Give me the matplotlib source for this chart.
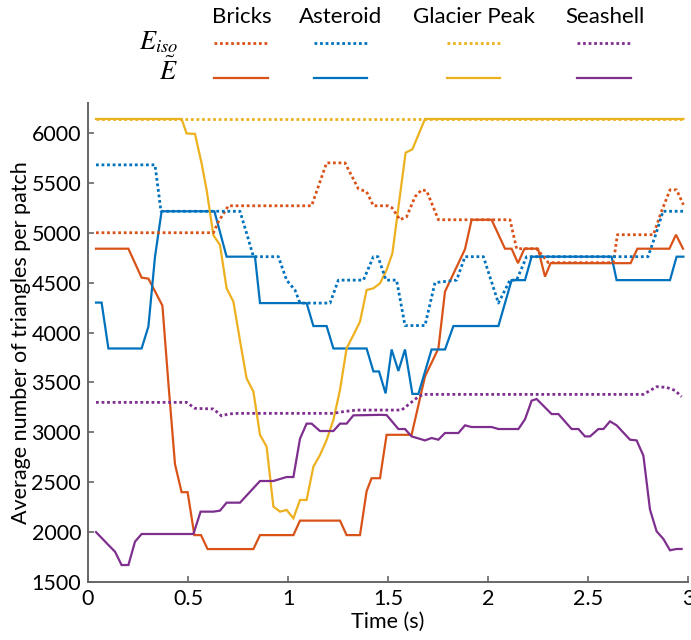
import matplotlib
matplotlib.use("Agg")
import matplotlib.pyplot as plt
from matplotlib.lines import Line2D

plt.rcParams["font.family"] = ["Lato", "DejaVu Sans"]
plt.rcParams["mathtext.fontset"] = "stix"

# --- data: polyline vertices (time in s, triangles per patch)
bricks_iso_t = [0.04, 0.627, 0.652, 0.702, 1.118, 1.193, 1.285, 1.352, 1.393, 1.427, 1.50,
                1.52, 1.56, 1.593, 1.635, 1.668, 1.693, 1.752, 2.11, 2.143, 2.243, 2.302,
                2.627, 2.647, 2.827, 2.865, 2.91, 2.943, 2.977]
bricks_iso_v = [5000, 5000, 5110, 5270, 5270, 5700, 5700, 5440, 5410, 5270, 5270,
                5250, 5130, 5160, 5360, 5430, 5420, 5130, 5130, 4840, 4840, 4700,
                4700, 4980, 4980, 5200, 5430, 5430, 5280]

bricks_t = [0.04, 0.202, 0.268, 0.302, 0.372, 0.402, 0.435, 0.468, 0.498, 0.532, 0.565,
            0.598, 0.827, 0.86, 1.027, 1.06, 1.26, 1.293, 1.36, 1.393, 1.418, 1.46,
            1.493, 1.618, 1.685, 1.752, 1.785, 1.885, 1.918, 2.018, 2.085, 2.118, 2.15,
            2.182, 2.25, 2.285, 2.313, 2.713, 2.747, 2.907, 2.94, 2.975]
bricks_v = [4840, 4840, 4550, 4540, 4270, 3490, 2680, 2400, 2400, 1970, 1970,
            1830, 1830, 1970, 1970, 2115, 2115, 1970, 1970, 2410, 2540, 2540,
            2975, 2975, 3560, 3840, 4410, 4835, 5130, 5130, 4840, 4840, 4695,
            4840, 4840, 4560, 4695, 4695, 4840, 4840, 4980, 4840]

asteroid_iso_t = [0.04, 0.335, 0.365, 0.76, 0.793, 0.827, 0.952, 0.993, 1.035, 1.06, 1.21,
                  1.252, 1.377, 1.427, 1.45, 1.49, 1.543, 1.585, 1.685, 1.735, 1.843,
                  1.885, 1.977, 2.052, 2.11, 2.143, 2.193, 2.80, 2.84, 2.875, 2.977]
asteroid_iso_v = [5680, 5680, 5215, 5215, 4995, 4760, 4760, 4525, 4425, 4295, 4295,
                  4525, 4525, 4760, 4760, 4525, 4525, 4070, 4070, 4500, 4525,
                  4760, 4760, 4295, 4525, 4525, 4760, 4760, 4990, 5215, 5215]

asteroid_t = [0.04, 0.068, 0.102, 0.268, 0.302, 0.335, 0.368, 0.632, 0.693, 0.835, 0.86,
              1.093, 1.127, 1.193, 1.227, 1.393, 1.427, 1.455, 1.488, 1.518, 1.552,
              1.585, 1.622, 1.652, 1.718, 1.785, 1.827, 2.052, 2.118, 2.185, 2.218,
              2.618, 2.643, 2.91, 2.943, 2.977]
asteroid_v = [4300, 4300, 3840, 3840, 4060, 4760, 5215, 5215, 4760, 4760, 4295,
              4295, 4065, 4065, 3840, 3840, 3610, 3610, 3390, 3830, 3615,
              3830, 3385, 3385, 3830, 3830, 4065, 4065, 4525, 4525, 4760,
              4760, 4525, 4525, 4760, 4760]

glacier_iso_t = [0.04, 2.977]
glacier_iso_v = [6140, 6140]

glacier_t = [0.04, 0.468, 0.493, 0.535, 0.568, 0.593, 0.627, 0.66, 0.693, 0.727, 0.768,
             0.793, 0.827, 0.86, 0.893, 0.927, 0.96, 0.993, 1.027, 1.06, 1.093, 1.127,
             1.16, 1.193, 1.227, 1.26, 1.293, 1.327, 1.36, 1.393, 1.427, 1.46, 1.493,
             1.522, 1.555, 1.588, 1.622, 1.685, 2.977]
glacier_v = [6140, 6140, 5995, 5990, 5695, 5430, 4975, 4877, 4443, 4309, 3825,
             3541, 3408, 2974, 2857, 2256, 2205, 2222, 2138, 2322, 2322, 2656,
             2773, 2923, 3124, 3425, 3842, 3975, 4109, 4426, 4443, 4493, 4627,
             4794, 5300, 5802, 5836, 6140, 6140]

seashell_iso_t = [0.04, 0.493, 0.535, 0.627, 0.668, 0.702, 0.752, 1.227, 1.277, 1.343,
                  1.568, 1.652, 1.677, 2.777, 2.843, 2.893, 2.935, 2.968]
seashell_iso_v = [3300, 3300, 3240, 3234, 3164, 3184, 3190, 3190, 3207, 3223,
                  3223, 3357, 3380, 3380, 3457, 3450, 3420, 3357]

seashell_t = [0.04, 0.102, 0.135, 0.168, 0.202, 0.235, 0.268, 0.527, 0.563, 0.627, 0.66,
              0.693, 0.76, 0.86, 0.927, 0.993, 1.027, 1.06, 1.093, 1.118, 1.16, 1.227,
              1.26, 1.293, 1.327, 1.46, 1.493, 1.552, 1.585, 1.618, 1.685, 1.718,
              1.752, 1.785, 1.852, 1.885, 1.918, 2.018, 2.052, 2.152, 2.185, 2.218,
              2.243, 2.318, 2.352, 2.418, 2.452, 2.485, 2.51, 2.552, 2.577, 2.61,
              2.643, 2.71, 2.743, 2.777, 2.81, 2.843, 2.877, 2.91, 2.943, 2.968]
seashell_v = [2000, 1871, 1804, 1670, 1670, 1904, 1981, 1981, 2205, 2205, 2215,
              2295, 2295, 2512, 2512, 2552, 2552, 2936, 3087, 3087, 3013, 3013,
              3087, 3087, 3170, 3175, 3173, 3033, 3033, 2959, 2919, 2943,
              2926, 2993, 2993, 3070, 3053, 3053, 3033, 3033, 3130, 3317,
              3334, 3183, 3183, 3033, 3033, 2959, 2959, 3033, 3033, 3110,
              3070, 2926, 2919, 2766, 2225, 2008, 1931, 1818, 1831, 1831]

scenes = ["Bricks", "Asteroid", "Glacier Peak", "Seashell"]
colors = ["#D95319", "#0072BD", "#EDB120", "#7E2F8E"]
iso_series = [(bricks_iso_t, bricks_iso_v), (asteroid_iso_t, asteroid_iso_v),
              (glacier_iso_t, glacier_iso_v), (seashell_iso_t, seashell_iso_v)]
ours_series = [(bricks_t, bricks_v), (asteroid_t, asteroid_v),
               (glacier_t, glacier_v), (seashell_t, seashell_v)]

W, H = 691, 640
fig = plt.figure(figsize=(W / 100, H / 100), dpi=100)
ax = fig.add_axes([88 / W, 58 / H, 600 / W, 479 / H])

dot = (0, (1, 1))
for (t, v), c in zip(ours_series, colors):
    ax.plot(t, v, color=c, lw=1.6, solid_joinstyle="miter")
for (t, v), c in zip(iso_series, colors):
    ax.plot(t, v, color=c, lw=2.0, linestyle=dot)

ax.set_xlim(0, 3)
ax.set_ylim(1500, 6300)
ax.set_xticks([0, 0.5, 1, 1.5, 2, 2.5, 3])
ax.set_xticklabels(["0", "0.5", "1", "1.5", "2", "2.5", "3"])
ax.set_yticks(range(1500, 6001, 500))
for s in ("top", "right"):
    ax.spines[s].set_visible(False)
for s in ("left", "bottom"):
    ax.spines[s].set_color("#666666")
    ax.spines[s].set_linewidth(1.4)
ax.tick_params(direction="in", length=4, width=1.2, color="#666666",
               labelsize=15.5, pad=5)
ax.set_xlabel("Time (s)", fontsize=15.5, labelpad=2)
ax.set_ylabel("Average number of triangles per patch", fontsize=15.5, labelpad=0)

# legend laid out as a small table above the axes
head_x = [242, 341, 474, 605]
line_x = [(214, 268), (314, 367), (447, 500), (577, 631)]
for name, hx in zip(scenes, head_x):
    fig.text(hx / W, 1 - 17 / H, name, ha="center", va="center", fontsize=16)
fig.text(178 / W, 1 - 42 / H, r"$E_{iso}$", ha="right", va="center", fontsize=19)
fig.text(178 / W, 1 - 71 / H, r"$\tilde{E}$", ha="right", va="center", fontsize=19)
for (x0, x1), c in zip(line_x, colors):
    fig.add_artist(Line2D([x0 / W, x1 / W], [1 - 43 / H] * 2, color=c, lw=2.0,
                          linestyle=dot, transform=fig.transFigure))
    fig.add_artist(Line2D([x0 / W, x1 / W], [1 - 78 / H] * 2, color=c, lw=1.6,
                          transform=fig.transFigure))

fig.savefig("out.png", dpi=100)
